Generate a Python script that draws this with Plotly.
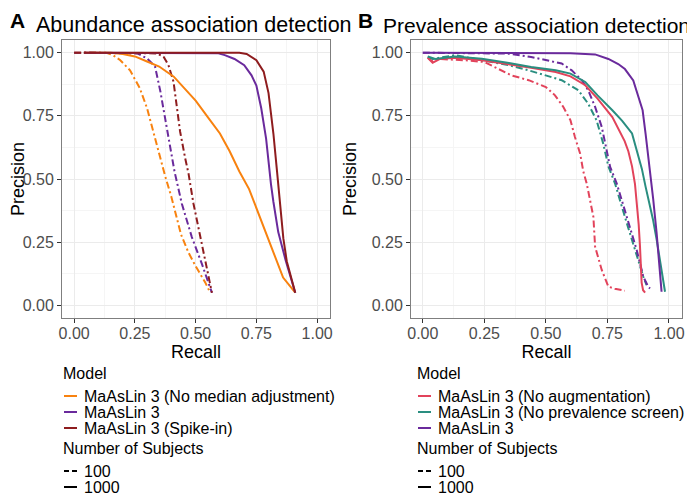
import plotly.graph_objects as go
from plotly.subplots import make_subplots

# the page body keeps its default 8px margin, so the figure is drawn from (8, 8)
OFF = 8
W, H = 695 - OFF, 496 - OFF

# ---- panel A: abundance association detection ----
a_nomed_1000_recall = [0.04, 0.15, 0.20, 0.25, 0.30, 0.35, 0.41, 0.46, 0.50, 0.55, 0.60, 0.64, 0.68, 0.72, 0.76, 0.80, 0.83, 0.86, 0.91]
a_nomed_1000_prec = [1.0, 1.0, 0.995, 0.985, 0.965, 0.945, 0.905, 0.85, 0.81, 0.745, 0.68, 0.61, 0.53, 0.46, 0.36, 0.26, 0.19, 0.11, 0.05]
a_main_1000_recall = [0.04, 0.55, 0.59, 0.62, 0.66, 0.70, 0.73, 0.75, 0.77, 0.79, 0.80, 0.81, 0.82, 0.83, 0.84, 0.87, 0.91]
a_main_1000_prec = [1.0, 1.0, 0.998, 0.99, 0.975, 0.95, 0.91, 0.87, 0.78, 0.66, 0.56, 0.48, 0.41, 0.34, 0.29, 0.18, 0.05]
a_spike_1000_recall = [0.04, 0.68, 0.71, 0.75, 0.78, 0.80, 0.81, 0.82, 0.835, 0.848, 0.861, 0.875, 0.91]
a_spike_1000_prec = [1.0, 1.0, 0.995, 0.97, 0.925, 0.84, 0.76, 0.68, 0.53, 0.38, 0.265, 0.175, 0.05]
a_nomed_100_recall = [0.0, 0.13, 0.16, 0.19, 0.23, 0.27, 0.30, 0.33, 0.355, 0.375, 0.40, 0.42, 0.44, 0.47, 0.50, 0.54, 0.56]
a_nomed_100_prec = [1.0, 1.0, 0.99, 0.97, 0.93, 0.86, 0.78, 0.67, 0.58, 0.51, 0.43, 0.36, 0.28, 0.21, 0.155, 0.09, 0.05]
a_main_100_recall = [0.0, 0.22, 0.26, 0.30, 0.333, 0.355, 0.375, 0.395, 0.413, 0.443, 0.484, 0.525, 0.567]
a_main_100_prec = [1.0, 1.0, 0.997, 0.977, 0.945, 0.846, 0.74, 0.635, 0.53, 0.403, 0.271, 0.166, 0.05]
a_spike_100_recall = [0.0, 0.30, 0.34, 0.368, 0.388, 0.409, 0.423, 0.436, 0.457, 0.471, 0.491, 0.519, 0.546, 0.567]
a_spike_100_prec = [1.0, 1.0, 0.997, 0.984, 0.951, 0.885, 0.793, 0.688, 0.582, 0.52, 0.403, 0.271, 0.14, 0.05]

# ---- panel B: prevalence association detection ----
b_noaug_1000_recall = [0.02, 0.04, 0.07, 0.13, 0.24, 0.35, 0.44, 0.54, 0.60, 0.66, 0.71, 0.77, 0.80, 0.82, 0.835, 0.85, 0.862, 0.869, 0.877, 0.882, 0.886, 0.889, 0.895, 0.903]
b_noaug_1000_prec = [0.98, 0.96, 0.975, 0.98, 0.97, 0.955, 0.94, 0.923, 0.906, 0.871, 0.818, 0.745, 0.69, 0.65, 0.61, 0.55, 0.48, 0.416, 0.32, 0.24, 0.15, 0.09, 0.06, 0.05]
b_noscreen_1000_recall = [0.02, 0.05, 0.13, 0.24, 0.35, 0.44, 0.54, 0.60, 0.66, 0.71, 0.77, 0.81, 0.85, 0.87, 0.89, 0.905, 0.92, 0.935, 0.95, 0.965, 0.984]
b_noscreen_1000_prec = [0.985, 0.975, 0.985, 0.976, 0.959, 0.943, 0.93, 0.917, 0.884, 0.831, 0.772, 0.73, 0.68, 0.61, 0.54, 0.47, 0.41, 0.34, 0.26, 0.17, 0.054]
b_main_1000_recall = [0.0, 0.40, 0.60, 0.70, 0.754, 0.794, 0.821, 0.855, 0.875, 0.893, 0.905, 0.915, 0.925, 0.936, 0.95, 0.963, 0.97]
b_main_1000_prec = [1.0, 1.0, 0.998, 0.993, 0.975, 0.955, 0.935, 0.89, 0.824, 0.772, 0.68, 0.60, 0.52, 0.42, 0.285, 0.153, 0.054]
b_noaug_100_recall = [0.02, 0.04, 0.06, 0.17, 0.25, 0.29, 0.36, 0.43, 0.50, 0.537, 0.571, 0.60, 0.618, 0.639, 0.652, 0.666, 0.68, 0.693, 0.70, 0.727, 0.754, 0.78, 0.821]
b_noaug_100_prec = [0.98, 0.965, 0.975, 0.97, 0.963, 0.943, 0.91, 0.891, 0.864, 0.831, 0.785, 0.732, 0.666, 0.601, 0.53, 0.482, 0.42, 0.35, 0.232, 0.14, 0.074, 0.066, 0.058]
b_noscreen_100_recall = [0.02, 0.04, 0.13, 0.24, 0.35, 0.43, 0.50, 0.564, 0.632, 0.672, 0.706, 0.733, 0.754, 0.781, 0.821, 0.862, 0.896, 0.909]
b_noscreen_100_prec = [0.983, 0.975, 0.99, 0.97, 0.95, 0.93, 0.91, 0.891, 0.851, 0.798, 0.732, 0.64, 0.55, 0.482, 0.35, 0.219, 0.113, 0.08]
b_main_100_recall = [0.0, 0.35, 0.44, 0.51, 0.564, 0.605, 0.646, 0.672, 0.70, 0.727, 0.745, 0.761, 0.788, 0.828, 0.869, 0.896, 0.915, 0.923]
b_main_100_prec = [1.0, 0.996, 0.983, 0.97, 0.957, 0.93, 0.891, 0.851, 0.785, 0.706, 0.627, 0.548, 0.482, 0.35, 0.219, 0.113, 0.075, 0.067]

tick_vals = [0, 0.25, 0.5, 0.75, 1.0]
tick_text = ["0.00", "0.25", "0.50", "0.75", "1.00"]

a_models = ["MaAsLin 3 (No median adjustment)", "MaAsLin 3", "MaAsLin 3 (Spike-in)"]
b_models = ["MaAsLin 3 (No augmentation)", "MaAsLin 3 (No prevalence screen)", "MaAsLin 3"]
subjects = ["100", "1000"]

ORANGE = "#F8820F"
PURPLE = "#6A2A9C"
DARKRED = "#8E1C1E"
RED = "#E2435B"
TEAL = "#2A8E80"
a_colors = [ORANGE, PURPLE, DARKRED]
b_colors = [RED, TEAL, PURPLE]
DASH_CURVE = "7px,3px,2px,3px"
DASH_KEY = "5px,3px"
FONT = "Liberation Sans, Arial, sans-serif"


def fx(p):
    # window pixel -> paper x
    return (p - OFF) / W


def fy(p):
    # window pixel -> paper y
    return 1 - (p - OFF) / H


fig = make_subplots(rows=1, cols=2)

a_curves = [
    (a_nomed_100_recall, a_nomed_100_prec, ORANGE, DASH_CURVE),
    (a_main_100_recall, a_main_100_prec, PURPLE, DASH_CURVE),
    (a_spike_100_recall, a_spike_100_prec, DARKRED, DASH_CURVE),
    (a_nomed_1000_recall, a_nomed_1000_prec, ORANGE, "solid"),
    (a_main_1000_recall, a_main_1000_prec, PURPLE, "solid"),
    (a_spike_1000_recall, a_spike_1000_prec, DARKRED, "solid"),
]
b_curves = [
    (b_noaug_100_recall, b_noaug_100_prec, RED, DASH_CURVE),
    (b_noscreen_100_recall, b_noscreen_100_prec, TEAL, DASH_CURVE),
    (b_main_100_recall, b_main_100_prec, PURPLE, DASH_CURVE),
    (b_noaug_1000_recall, b_noaug_1000_prec, RED, "solid"),
    (b_noscreen_1000_recall, b_noscreen_1000_prec, TEAL, "solid"),
    (b_main_1000_recall, b_main_1000_prec, PURPLE, "solid"),
]
for col, curves in [(1, a_curves), (2, b_curves)]:
    for xs, ys, c, d in curves:
        fig.add_trace(go.Scatter(x=xs, y=ys, mode="lines", showlegend=False,
                                 line=dict(color=c, width=2, dash=d)), row=1, col=col)

axis_style = dict(
    tickvals=tick_vals, ticktext=tick_text,
    showgrid=True, gridcolor="#EBEBEB", gridwidth=1,
    minor=dict(dtick=0.125, tick0=0, showgrid=True, gridcolor="#F5F5F5", gridwidth=0.6),
    showline=True, mirror=True, linecolor="#7F7F7F", linewidth=1,
    ticks="outside", ticklen=4, tickcolor="#333333", tickwidth=1,
    tickfont=dict(size=16, color="#4D4D4D", family=FONT),
    zeroline=False, automargin=False,
)
title_font = dict(size=18, color="black", family=FONT)

# panel placement (window pixels)
pa = (62, 330)
pb = (411, 682)
top, bottom = 40, 318
fig.update_xaxes(axis_style)
fig.update_yaxes(axis_style)
fig.update_xaxes(ticklabelstandoff=-3)
fig.update_xaxes(domain=[fx(pa[0]), fx(pa[1])], range=[-0.05, 1.053],
                 title=dict(text="Recall", font=title_font, standoff=0), row=1, col=1)
fig.update_xaxes(domain=[fx(pb[0]), fx(pb[1])], range=[-0.048, 1.053],
                 title=dict(text="Recall", font=title_font, standoff=0), row=1, col=2)
fig.update_yaxes(domain=[fy(bottom), fy(top)], range=[-0.05, 1.05],
                 title=dict(text="Precision", font=title_font, standoff=10))

ann = []
shapes = []
# panel tags and titles
for tag, x, y in [("A", 17, 20), ("B", 365, 20)]:
    ann.append(dict(text="<b>" + tag + "</b>", x=fx(x), y=fy(y), xref="paper", yref="paper",
                    showarrow=False, xanchor="center", yanchor="middle",
                    font=dict(size=21, color="black", family=FONT)))
for txt, x, size in [("Abundance association detection", 194, 21.5),
                     ("Prevalence association detection", 536, 21)]:
    ann.append(dict(text=txt, x=fx(x), y=fy(25), xref="paper", yref="paper",
                    showarrow=False, xanchor="center", yanchor="middle",
                    font=dict(size=size, color="black", family=FONT)))


def add_legend(x0, y0, models, colors):
    # x0: left edge of legend, y0: centre of "Model" title (window pixels)
    key_len, text_gap, row = 13, 21, 16
    font = dict(size=16, color="black", family=FONT)

    def label(text, x, y):
        ann.append(dict(text=text, x=fx(x), y=fy(y), xref="paper", yref="paper",
                        showarrow=False, xanchor="left", yanchor="middle", font=font))

    def key(y, color, dash):
        shapes.append(dict(type="line", xref="paper", yref="paper",
                           x0=fx(x0 + 1), x1=fx(x0 + 1 + key_len),
                           y0=fy(y), y1=fy(y),
                           line=dict(color=color, width=2, dash=dash)))

    label("Model", x0 - 2, y0)
    for i, (m, c) in enumerate(zip(models, colors)):
        y = y0 + 23 + i * row
        key(y, c, "solid")
        label(m, x0 + text_gap - 2, y)
    ys = y0 + 75
    label("Number of Subjects", x0 - 2, ys)
    for i, (s, d) in enumerate(zip(subjects, [DASH_KEY, "solid"])):
        y = ys + 23 + i * row
        key(y, "black", d)
        label(s, x0 + text_gap - 2, y)


add_legend(63, 373, a_models, a_colors)
add_legend(417, 373, b_models, b_colors)

fig.update_layout(
    width=W, height=H,
    margin=dict(l=0, r=0, t=0, b=0),
    paper_bgcolor="white", plot_bgcolor="white",
    font=dict(family=FONT),
    annotations=ann, shapes=shapes,
    showlegend=False,
)

fig.write_html("out.html")
